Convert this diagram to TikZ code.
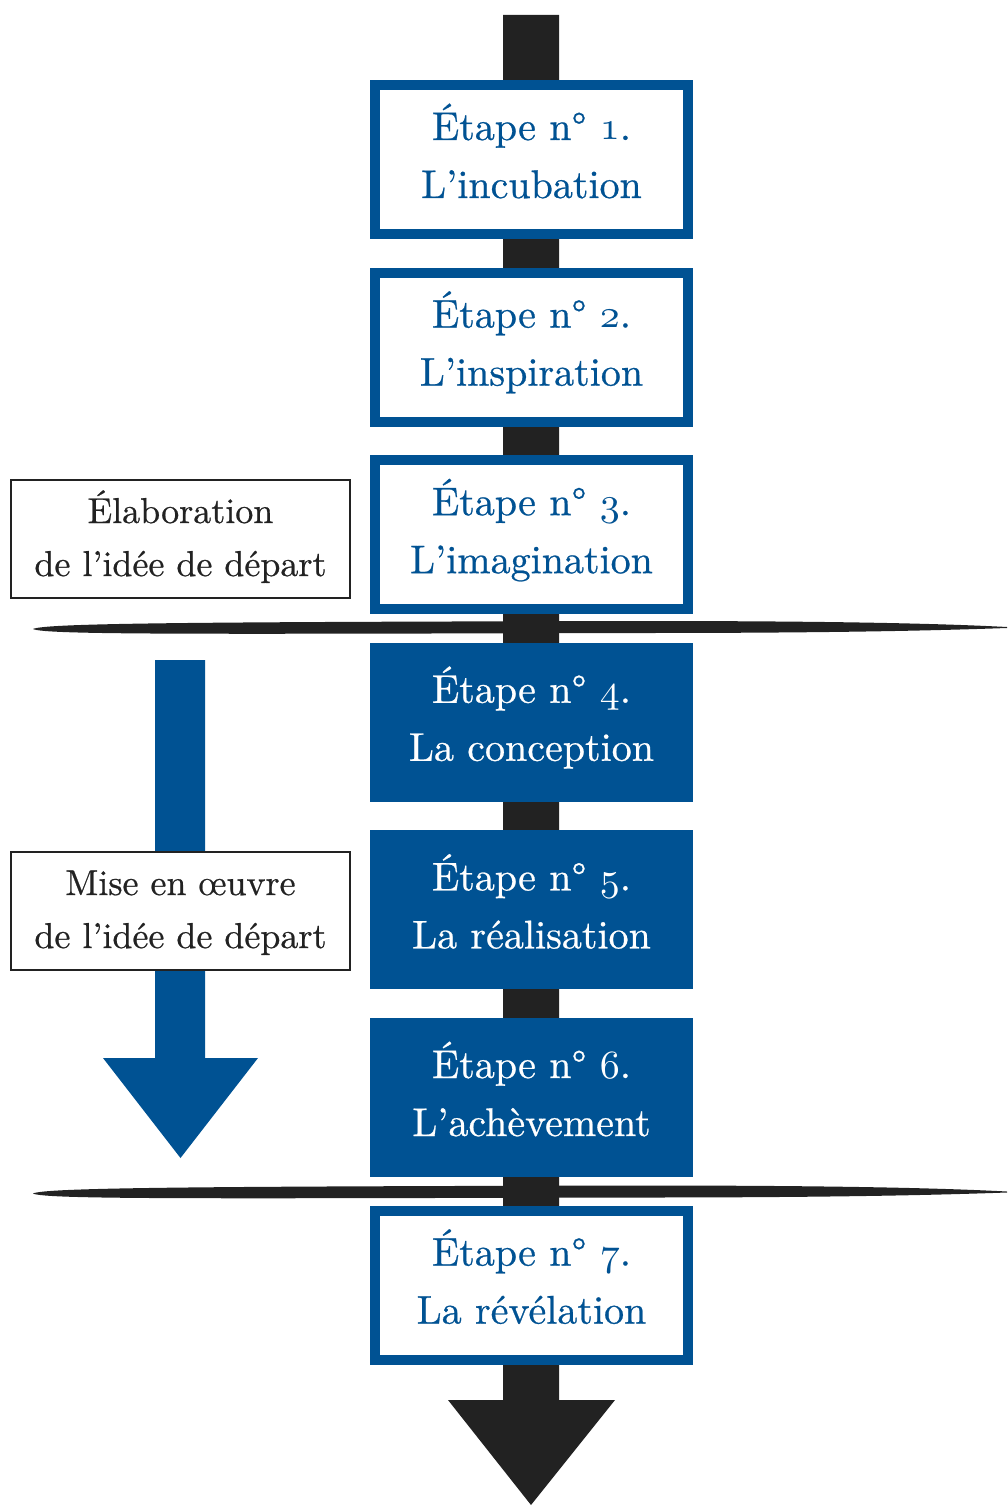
\documentclass[tikz,border=0pt]{standalone}
\usepackage{xcolor}
\DeclareFontFamily{TU}{lmrten}{}
\DeclareFontShape{TU}{lmrten}{m}{n}{<->"[lmroman10-regular]:mapping=tex-text;embolden=0.6"}{}
\definecolor{stepblue}{RGB}{0,82,147}
\definecolor{ink}{RGB}{34,34,34}
\font\osnfont=cmmi10 at 40pt
\newcommand{\bstrut}{\rule[-19pt]{0pt}{57pt}}
\newcommand{\lstrut}{\rule[-15pt]{0pt}{51pt}}
\newcommand{\osn}[1]{{\osnfont #1}}
\begin{document}
\begin{tikzpicture}[x=1pt,y=-1pt,
  stepbox/.style={draw=stepblue, line width=10pt, fill=white, minimum width=313pt,
    minimum height=149pt, inner sep=0pt, align=center, text=stepblue,
    font=\fontfamily{lmrten}\fontsize{40}{58}\selectfont},
  stepfilled/.style={stepbox, fill=stepblue, text=white},
  sidebox/.style={draw=ink, line width=2pt, fill=white, minimum width=339pt,
    minimum height=118pt, inner sep=0pt, align=center, text=ink,
    font=\fontfamily{lmrten}\fontsize{36}{53}\selectfont},
  brush/.style={fill=ink, draw=none}
]
\useasboundingbox (0,0) rectangle (1007,1506);

% main spine arrow
\coordinate (spinetop) at (531,15);
\coordinate (spinetip) at (531,1505);
\fill[ink] (503,15) -- (559,15) -- (559,1400) -- (615,1400) -- (spinetip)
  -- (448,1400) -- (503,1400) -- cycle;

% blue side arrow
\coordinate (bluetop) at (180,660);
\coordinate (bluetip) at (180.5,1158);
\fill[stepblue] (155,660) -- (205,660) -- (205,1058) -- (258,1058) -- (bluetip)
  -- (103,1058) -- (155,1058) -- cycle;

% brush strokes
\foreach \dy in {0,564.5}{
  \begin{scope}[shift={(0,\dy)}]
  \fill[brush] (33,629) .. controls (45,623) and (200,622) .. (640,621)
    .. controls (850,621) and (950,624) .. (1007,627)
    -- (1007,628) .. controls (950,630) and (850,633) .. (640,633)
    .. controls (200,634) and (45,635) .. cycle;
  \end{scope}
}

% step boxes
\node[stepbox] (s1) at (531.5,159.5) {\bstrut Étape n° \osn{1}.\\\bstrut L’incubation};
\node[stepbox] (s2) at (531.5,347.1) {\bstrut Étape n° \osn{2}.\\\bstrut L’inspiration};
\node[stepbox] (s3) at (531.5,534.7) {\bstrut Étape n° \osn{3}.\\\bstrut L’imagination};
\node[stepfilled] (s4) at (531.5,722.3) {\bstrut Étape n° \osn{4}.\\\bstrut La conception};
\node[stepfilled] (s5) at (531.5,909.9) {\bstrut Étape n° \osn{5}.\\\bstrut La réalisation};
\node[stepfilled] (s6) at (531.5,1097.5) {\bstrut Étape n° \osn{6}.\\\bstrut L’achèvement};
\node[stepbox] (s7) at (531.5,1285.1) {\bstrut Étape n° \osn{7}.\\\bstrut La révélation};

% side boxes
\node[sidebox] (elab) at (180.5,539) {\lstrut Élaboration\\\lstrut de l’idée de départ};
\node[sidebox] (mise) at (180.5,911) {\lstrut Mise en œuvre\\\lstrut de l’idée de départ};
\end{tikzpicture}
\end{document}
